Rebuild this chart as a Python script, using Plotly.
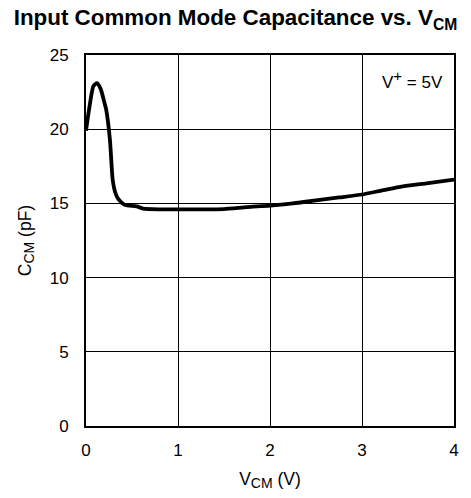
import plotly.graph_objects as go

# Input common-mode capacitance vs. common-mode voltage (V+ = 5V)
vcm = [0.0, 0.04, 0.08, 0.12, 0.16, 0.2, 0.22, 0.26, 0.29, 0.32, 0.35, 0.42, 0.55, 0.62,
       0.8, 1.0, 1.25, 1.5, 1.75, 2.0, 2.25, 2.5, 2.75, 3.0, 3.2, 3.4, 3.7, 4.0]
ccm = [19.9, 21.6, 22.9, 23.1, 22.7, 21.8, 21.3, 19.3, 16.6, 15.7, 15.3, 14.9, 14.8, 14.65,
       14.6, 14.6, 14.6, 14.62, 14.75, 14.85, 15.0, 15.2, 15.4, 15.6, 15.85, 16.1, 16.35, 16.6]

x_ticks = [0, 1, 2, 3, 4]
y_ticks = [0, 5, 10, 15, 20, 25]

font = "Liberation Sans, Arial, sans-serif"
W, H = 471, 498

def sub(text, px=14):
    return f"<sub><span style='font-size:{px}px'>{text}</span></sub>"

fig = go.Figure()
fig.add_trace(go.Scatter(
    x=vcm, y=ccm, mode="lines",
    line=dict(color="black", width=3.8, shape="spline", smoothing=0.6),
    showlegend=False, hoverinfo="skip",
))

axis_common = dict(
    showgrid=True, gridcolor="black", gridwidth=1,
    showline=True, linecolor="black", linewidth=2, mirror=True,
    zeroline=False, ticks="", tickfont=dict(size=17, color="black"),
)

fig.update_xaxes(range=[0, 4], tickvals=x_ticks, ticklabelstandoff=8,
                 title=dict(text="V" + sub("CM") + " (V)", font=dict(size=17.5, color="black"), standoff=13),
                 **axis_common)
fig.update_yaxes(range=[0, 25], tickvals=y_ticks, ticklabelstandoff=12,
                 title=dict(text="C" + sub("CM") + " (pF)", font=dict(size=17.5, color="black"), standoff=14),
                 **axis_common)

fig.add_annotation(x=0.975, y=0.933, xref="paper", yref="paper", xanchor="right", yanchor="middle",
                   text="V<sup><span style='font-size:15px'>+</span></sup> = 5V", showarrow=False,
                   font=dict(size=17, color="black", family=font))

fig.update_layout(
    width=W, height=H,
    margin=dict(l=86, r=14, t=55, b=72),
    paper_bgcolor="white", plot_bgcolor="white",
    font=dict(family=font, color="black"),
    title=dict(text="<b>Input Common Mode Capacitance vs. V<sub>CM</sub></b>",
               x=0.5, xanchor="center", y=1 - 17 / H, yanchor="middle",
               font=dict(size=22.4, color="black")),
)

fig.write_html("out.html")
